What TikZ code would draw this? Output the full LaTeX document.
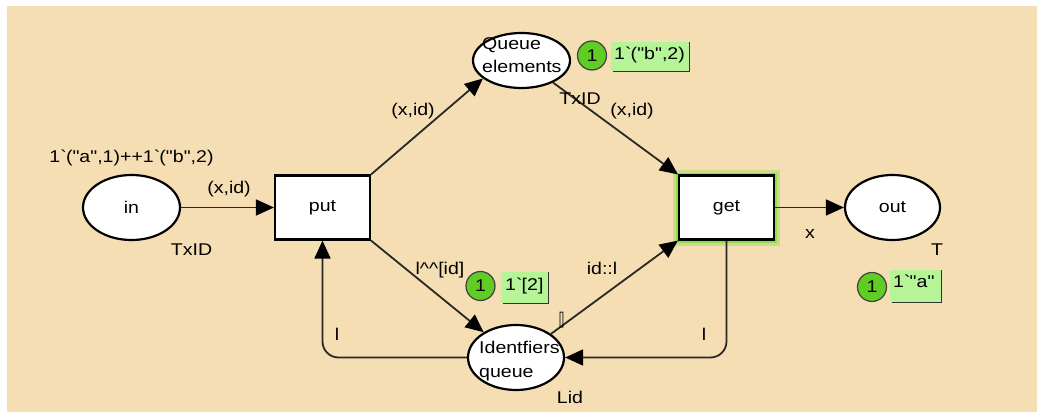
\documentclass[tikz,border=0pt]{standalone}
\usepackage{fontspec}
\setmainfont{Liberation Sans}[FakeStretch=1.15,Ligatures=TeXOff]
\usetikzlibrary{shapes.geometric,arrows.meta}
\definecolor{wheatbg}{RGB}{245,222,179}
\definecolor{tokgreen}{RGB}{95,205,35}
\definecolor{boxgreen}{RGB}{182,244,152}
\definecolor{arccol}{RGB}{40,40,36}
\definecolor{glowcol}{RGB}{120,220,50}
\begin{document}
\begin{tikzpicture}[x=1pt,y=-1pt,
  every node/.style={font=\fontsize{17}{20}\selectfont},
  place/.style={ellipse, draw=black, line width=2.2pt, fill=white, inner sep=0pt},
  trans/.style={rectangle, draw=black, line width=2.2pt, fill=white, minimum width=95pt, minimum height=64pt, inner sep=0pt},
  glowbox/.style={preaction={draw=glowcol!35!wheatbg, line width=12pt},
                  preaction={draw=glowcol!80!wheatbg, line width=6pt}},
  arcline/.style={draw=arccol, line width=1.8pt, -{Triangle[length=18pt,width=16pt,color=black]}},
  lbl/.style={inner sep=0pt, anchor=base},
  tok/.style={circle, draw=black!75, line width=1.2pt, fill=tokgreen, minimum size=29pt, inner sep=0pt},
  tokbox/.style={rectangle, fill=boxgreen, inner sep=0pt, anchor=north west},
  tokedge/.style={draw=black!80, line width=1.5pt}
]
\fill[white] (0,0) rectangle (1037,412);
\fill[wheatbg] (7,6) rectangle (1037,412);
\useasboundingbox (0,0) rectangle (1037,412);

% places
\node[place, minimum width=97pt, minimum height=65pt] (in) at (131.5,207.5) {in};
\node[place, minimum width=95pt, minimum height=65pt] (out) at (892.5,207.5) {out};
\node[place, minimum width=97pt, minimum height=55pt] (qe) at (521.5,60.5) {};
\node[place, minimum width=96pt, minimum height=65pt] (iq) at (516,357.5) {};
\node[lbl, anchor=base west] (qet1) at (482,50) {Queue};
\node[lbl, anchor=base west] (qet2) at (482,73) {elements};
\node[lbl, anchor=base west] (iqt1) at (479,353) {Identfiers};
\node[lbl, anchor=base west] (iqt2) at (479,377) {queue};

% transitions
\node[trans] (put) at (322.5,207.5) {put};
\node[trans, glowbox] (get) at (726.5,207.5) {get};

% arcs
\draw[arcline] (in) -- (put);
\draw[arcline] (put.north east) -- (qe.205);
\draw[arcline] (qe.325) -- (get.north west);
\draw[arcline] (get) -- (out);
\draw[arcline] (put.south east) -- (iq.142);
\draw[arcline] (iq.34) -- (get.south west);
\draw[arcline, rounded corners=16pt] (iq.west) -| (put.south);
\draw[arcline, rounded corners=16pt] (get.south) |- (iq.east);

% labels
\node[lbl] (m0) at (131.5,162) {1\textasciigrave("a",1)++1\textasciigrave("b",2)};
\node[lbl] (a1) at (229,193) {(x,id)};
\node[lbl] (c1) at (191.5,255) {TxID};
\node[lbl] (a2) at (413,115) {(x,id)};
\node[lbl] (c2) at (580,104) {TxID};
\node[lbl] (a3) at (632,115) {(x,id)};
\node[lbl] (a4) at (440,274) {l\textasciicircum\textasciicircum[id]};
\node[lbl] (a5) at (602,274) {id::l};
\node[inner sep=0pt] (m2) at (561.5,320) {\scalebox{0.45}[1]{[]}};
\node[inner sep=0pt] (a6) at (337,334) {l};
\node[inner sep=0pt] (a7) at (704,334) {l};
\node[lbl] (a8) at (810,238) {x};
\node[lbl] (c3) at (937,255) {T};
\node[lbl] (c4) at (570,403) {Lid};

% tokens
\node[tok] (t1) at (592,55.5) {1};
\node[tokbox, minimum width=78pt, minimum height=29pt] (b1) at (611,42) {};
\draw[tokedge] (b1.north east) -- (b1.south east) -- ([xshift=2pt]b1.south west);
\node[lbl, anchor=base west] (b1t) at (614,60) {1\textasciigrave("b",2)};

\node[tok] (t2) at (480.5,286) {1};
\node[tokbox, minimum width=47pt, minimum height=31pt] (b2) at (501,272) {};
\draw[tokedge] (b2.north east) -- (b2.south east) -- ([xshift=2pt]b2.south west);
\node[lbl, anchor=base west] (b2t) at (505,290) {1\textasciigrave[2]};

\node[tok] (t3) at (872,287) {1};
\node[tokbox, minimum width=51pt, minimum height=32pt] (b3) at (890,270) {};
\draw[tokedge] (b3.north east) -- (b3.south east) -- ([xshift=2pt]b3.south west);
\node[lbl, anchor=base west] (b3t) at (893,287) {1\textasciigrave"a"};
\end{tikzpicture}
\end{document}
